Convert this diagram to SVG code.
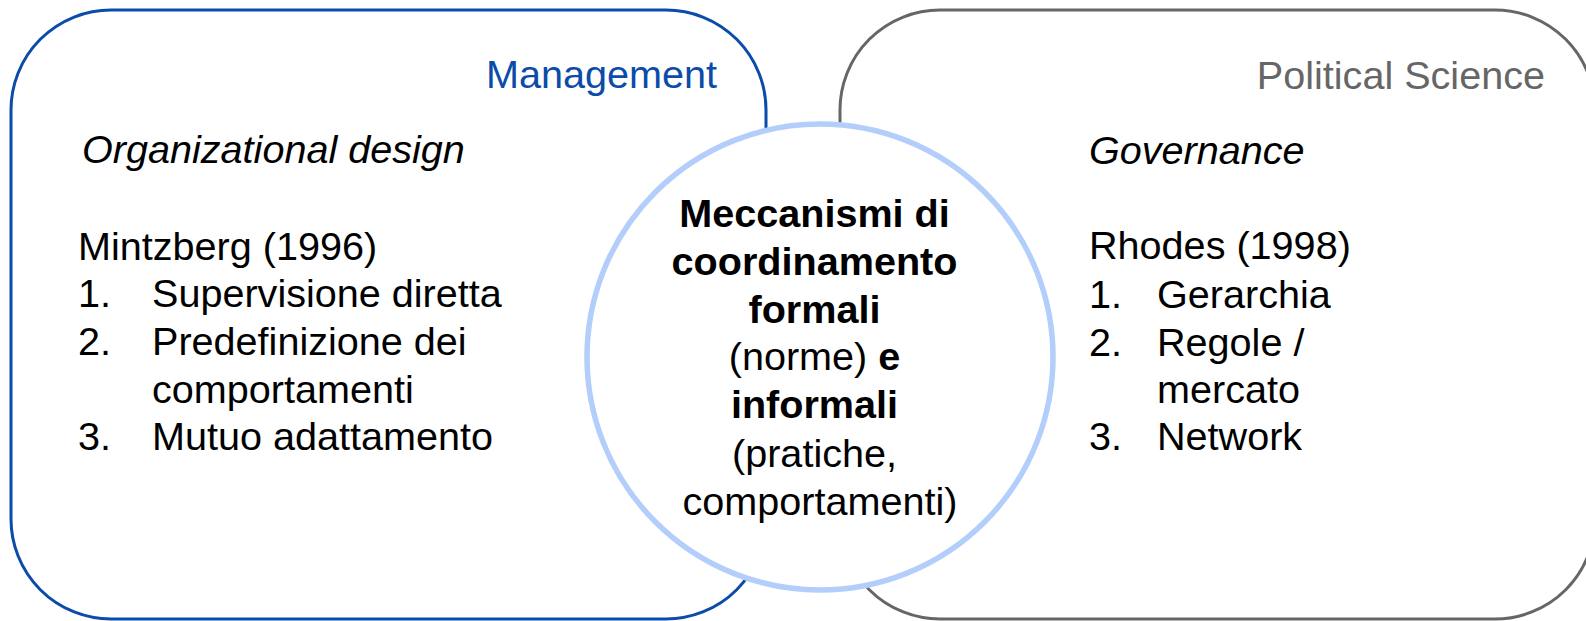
<svg xmlns="http://www.w3.org/2000/svg" width="1586" height="621" viewBox="0 0 1586 621">
<style>
text{font-family:"Liberation Sans",Arial,sans-serif;font-size:39.6px;fill:#000}
.b{font-weight:bold}
.i{font-style:italic}
.box{fill:#fff;stroke-width:3}
</style>
<rect width="1586" height="621" fill="#fff"/>
<g id="management">
<rect class="box" x="11" y="10" width="755" height="609" rx="100" ry="100" stroke="#0B4BAA"/>
<text x="717" y="88" text-anchor="end" style="fill:#0B4BAA">Management</text>
<text class="i" x="82" y="163">Organizational design</text>
<text x="78" y="260">Mintzberg (1996)</text>
<text x="78" y="307">1.</text><text x="152" y="307">Supervisione diretta</text>
<text x="78" y="355">2.</text><text x="152" y="355">Predefinizione dei</text>
<text x="152" y="403">comportamenti</text>
<text x="78" y="450">3.</text><text x="152" y="450">Mutuo adattamento</text>
</g>
<g id="political-science">
<rect class="box" x="840" y="10" width="755" height="609" rx="100" ry="100" stroke="#666"/>
<text x="1545" y="89" text-anchor="end" style="fill:#666">Political Science</text>
<text class="i" x="1089" y="164">Governance</text>
<text x="1089" y="259">Rhodes (1998)</text>
<text x="1089" y="308">1.</text><text x="1157" y="308">Gerarchia</text>
<text x="1089" y="356">2.</text><text x="1157" y="356">Regole /</text>
<text x="1157" y="403">mercato</text>
<text x="1089" y="450">3.</text><text x="1157" y="450">Network</text>
</g>
<g id="connectors"></g>
<g id="coordination">
<circle cx="820" cy="357" r="233" fill="#fff" stroke="#B3CEFA" stroke-width="5.5"/>
<text x="820" text-anchor="middle">
<tspan class="b" x="820" y="227">Meccanismi di</tspan>
<tspan class="b" x="820" y="275">coordinamento</tspan>
<tspan class="b" x="820" y="323">formali</tspan>
<tspan x="820" y="370">(norme) <tspan class="b">e</tspan></tspan>
<tspan class="b" x="820" y="418">informali</tspan>
<tspan x="820" y="467">(pratiche,</tspan>
<tspan x="820" y="515">comportamenti)</tspan>
</text>
</g>
</svg>
